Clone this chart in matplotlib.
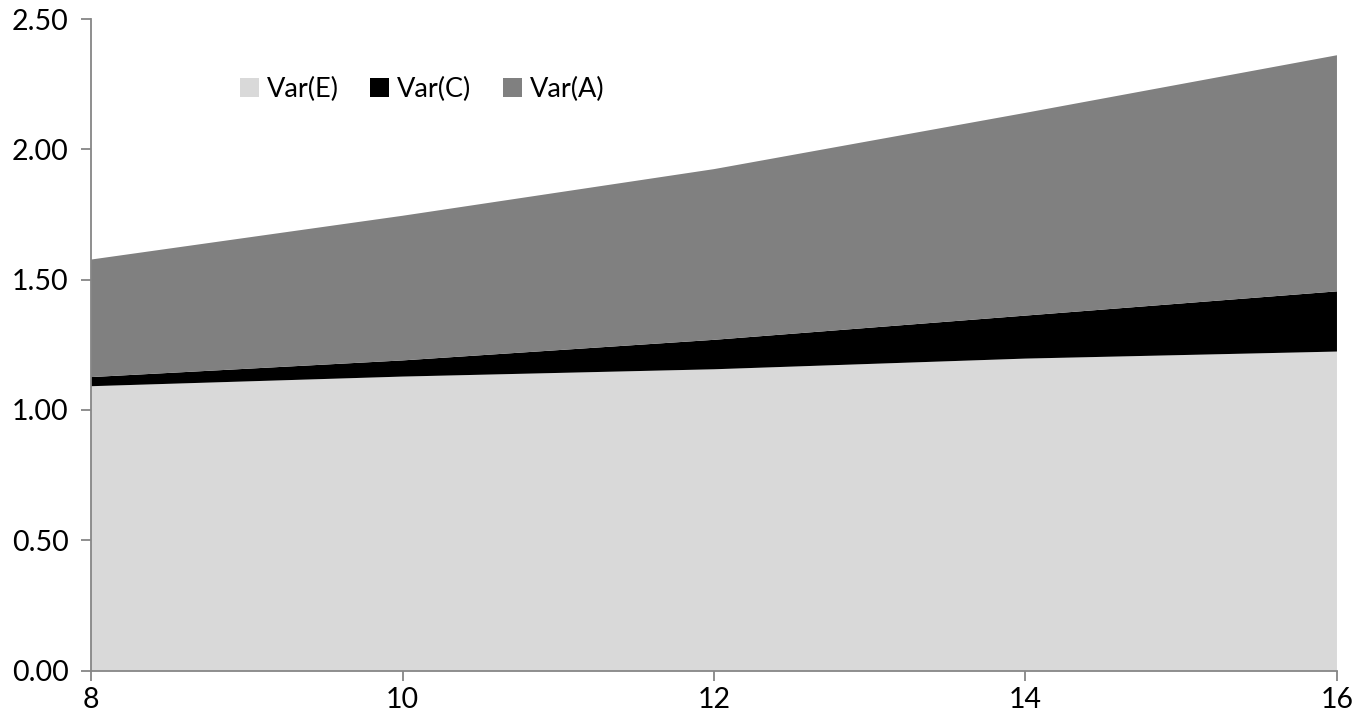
import numpy as np
import matplotlib.pyplot as plt

# Ages and variance components
age = [8, 10, 12, 14, 16]
var_e = [1.091, 1.128, 1.156, 1.197, 1.224]
var_c = [0.035, 0.062, 0.113, 0.165, 0.231]
var_a = [0.451, 0.555, 0.655, 0.778, 0.906]

labels = ['Var(E)', 'Var(C)', 'Var(A)']
colors = ['#d9d9d9', '#000000', '#808080']

plt.rcParams['font.family'] = ['Lato', 'DejaVu Sans']

fig = plt.figure(figsize=(13.69, 7.26), dpi=100)
ax = fig.add_axes([0.0665, 0.0764, 0.9101, 0.8974])

ax.stackplot(age, var_e, var_c, var_a, colors=colors, labels=labels, linewidth=0)

ax.set_xlim(8, 16)
ax.set_ylim(0, 2.5)
ax.set_xticks([8, 10, 12, 14, 16])
ax.set_yticks(np.arange(0, 2.51, 0.5))
ax.set_yticklabels([f'{v:.2f}' for v in np.arange(0, 2.51, 0.5)])

for s in ['top', 'right']:
    ax.spines[s].set_visible(False)
for s in ['left', 'bottom']:
    ax.spines[s].set_color('#868686')
    ax.spines[s].set_linewidth(1.3)
ax.tick_params(axis='both', colors='#868686', labelcolor='black', labelsize=20.5, length=7, width=1.3)
ax.tick_params(axis='y', pad=9)
ax.tick_params(axis='x', pad=5)

ax.legend(loc='upper left', bbox_to_anchor=(0.1, 0.948), ncol=3, frameon=False,
          fontsize=19.5, handlelength=0.7, handleheight=0.7, handletextpad=0.3,
          columnspacing=1.15)

fig.savefig('out.png', dpi=100)
